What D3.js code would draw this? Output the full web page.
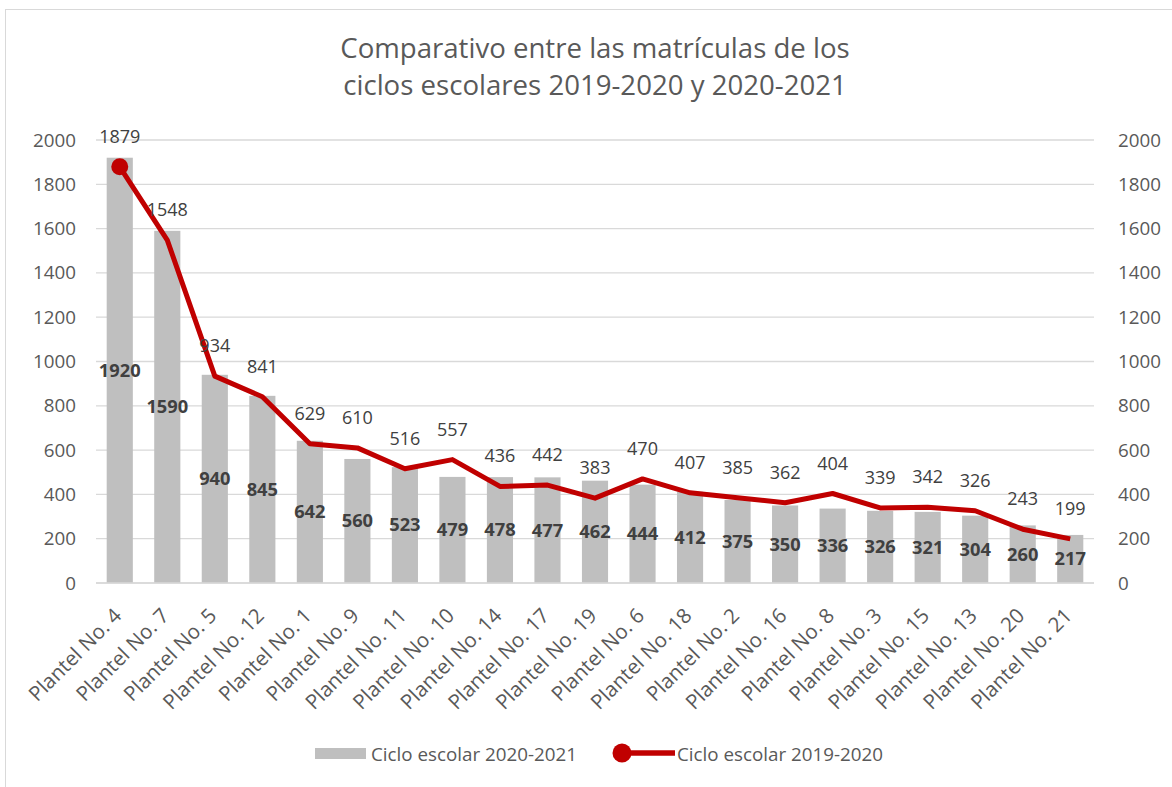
<!DOCTYPE html>
<html>
<head>
<meta charset="utf-8">
<script src="https://cdn.jsdelivr.net/npm/d3@7"></script>
<style>
  body { margin: 0; background: #fff; }
  svg text { font-family: "Open Sans", "Noto Sans", sans-serif; }
</style>
</head>
<body>
<svg id="chart" width="1172" height="787"></svg>
<script>
/* global d3 */

const categories = ["Plantel No. 4", "Plantel No. 7", "Plantel No. 5", "Plantel No. 12", "Plantel No. 1",
  "Plantel No. 9", "Plantel No. 11", "Plantel No. 10", "Plantel No. 14", "Plantel No. 17", "Plantel No. 19",
  "Plantel No. 6", "Plantel No. 18", "Plantel No. 2", "Plantel No. 16", "Plantel No. 8", "Plantel No. 3",
  "Plantel No. 15", "Plantel No. 13", "Plantel No. 20", "Plantel No. 21"];
// Ciclo escolar 2020-2021 (bars)
const ciclo2021 = [1920, 1590, 940, 845, 642, 560, 523, 479, 478, 477, 462, 444, 412, 375, 350, 336, 326, 321, 304, 260, 217];
// Ciclo escolar 2019-2020 (line)
const ciclo2020 = [1879, 1548, 934, 841, 629, 610, 516, 557, 436, 442, 383, 470, 407, 385, 362, 404, 339, 342, 326, 243, 199];
const yTicks = [0, 200, 400, 600, 800, 1000, 1200, 1400, 1600, 1800, 2000];
const titleLines = ["Comparativo entre las matrículas de los", "ciclos escolares 2019-2020 y 2020-2021"];
const legendLabels = ["Ciclo escolar 2020-2021", "Ciclo escolar 2019-2020"];

const barColor = "#bfbfbf", lineColor = "#c00000", textColor = "#595959", labelColor = "#404040";

let svg = d3.select("#chart");

// outer frame of the chart area
svg.append("rect")
  .attr("x", 5.5).attr("y", 9.5)
  .attr("width", 1200).attr("height", 800)
  .attr("fill", "#fff")
  .attr("stroke", "#d9d9d9");

let plot = { left: 96, right: 1094, top: 140, bottom: 583 };

let x = d3.scaleBand()
  .domain(categories)
  .range([plot.left, plot.right])
  .paddingInner(0.45)
  .paddingOuter(0.225);

let y = d3.scaleLinear().domain([0, 2000]).range([plot.bottom, plot.top]);

// title
svg.append("g").selectAll("text")
  .data(titleLines)
  .enter().append("text")
  .attr("x", 595)
  .attr("y", (d, i) => 58 + i * 37)
  .attr("text-anchor", "middle")
  .attr("font-size", 27.6)
  .attr("fill", textColor)
  .text(d => d);

// gridlines
svg.append("g").selectAll("line")
  .data(yTicks)
  .enter().append("line")
  .attr("x1", plot.left).attr("x2", plot.right)
  .attr("y1", d => y(d)).attr("y2", d => y(d))
  .attr("stroke", "#d9d9d9")
  .attr("stroke-width", 1.3);

// left and right axes, ticks only as text
let yLeft = svg.append("g")
  .attr("transform", "translate(" + (plot.left - 16) + ",0)")
  .call(d3.axisLeft(y).tickValues(yTicks).tickFormat(d3.format("d")).tickSize(0).tickPadding(4));
let yRight = svg.append("g")
  .attr("transform", "translate(" + (plot.right + 20) + ",0)")
  .call(d3.axisRight(y).tickValues(yTicks).tickFormat(d3.format("d")).tickSize(0).tickPadding(4));
[yLeft, yRight].forEach(function(g) {
  g.select(".domain").remove();
  g.selectAll("text")
    .attr("font-size", 18.8)
    .attr("fill", textColor)
    .style("font-family", "\"Open Sans\", sans-serif");
});

// bars
svg.append("g").selectAll("rect")
  .data(ciclo2021)
  .enter().append("rect")
  .attr("x", (d, i) => x(categories[i]))
  .attr("y", d => y(d))
  .attr("width", x.bandwidth())
  .attr("height", d => plot.bottom - y(d))
  .attr("fill", barColor);

// baseline
svg.append("line")
  .attr("x1", plot.left).attr("x2", plot.right)
  .attr("y1", plot.bottom).attr("y2", plot.bottom)
  .attr("stroke", "#d9d9d9")
  .attr("stroke-width", 1.3);

// category labels, rotated
let xAxis = svg.append("g")
  .attr("transform", "translate(0," + plot.bottom + ")")
  .call(d3.axisBottom(x).tickSize(0).tickPadding(0));
xAxis.select(".domain").remove();
xAxis.selectAll("text")
  .attr("font-size", 20.5)
  .attr("fill", textColor)
  .style("font-family", "\"Open Sans\", sans-serif")
  .attr("text-anchor", "end")
  .attr("y", 0)
  .attr("dy", null)
  .attr("transform", "translate(3,34) rotate(-45)");

// line series
let cx = i => x(categories[i]) + x.bandwidth() / 2;
let line = d3.line()
  .x((d, i) => cx(i))
  .y(d => y(d));
svg.append("path")
  .datum(ciclo2020)
  .attr("d", line)
  .attr("fill", "none")
  .attr("stroke", lineColor)
  .attr("stroke-width", 5)
  .attr("stroke-linejoin", "round");

// only the first point carries a marker
svg.append("circle")
  .attr("cx", cx(0))
  .attr("cy", y(ciclo2020[0]))
  .attr("r", 8.5)
  .attr("fill", lineColor);

// bar labels (bold, middle of bar)
svg.append("g").selectAll("text")
  .data(ciclo2021)
  .enter().append("text")
  .attr("x", (d, i) => cx(i))
  .attr("y", d => (y(d) + plot.bottom) / 2)
  .attr("dy", "0.35em")
  .attr("text-anchor", "middle")
  .attr("font-size", 18.3)
  .attr("font-weight", "bold")
  .attr("fill", labelColor)
  .text(d => d);

// line labels (above the point)
svg.append("g").selectAll("text")
  .data(ciclo2020)
  .enter().append("text")
  .attr("x", (d, i) => cx(i))
  .attr("y", d => y(d) - 24)
  .attr("text-anchor", "middle")
  .attr("font-size", 18)
  .attr("fill", labelColor)
  .text(d => d);

// legend
let legend = svg.append("g");
legend.append("rect")
  .attr("x", 315).attr("y", 748)
  .attr("width", 51).attr("height", 11)
  .attr("fill", barColor);
legend.append("text")
  .attr("x", 371).attr("y", 754).attr("dy", "0.35em")
  .attr("font-size", 18.8).attr("fill", textColor)
  .text(legendLabels[0]);
legend.append("line")
  .attr("x1", 622).attr("x2", 675)
  .attr("y1", 753).attr("y2", 753)
  .attr("stroke", lineColor).attr("stroke-width", 5.5);
legend.append("circle")
  .attr("cx", 622).attr("cy", 753).attr("r", 9.5)
  .attr("fill", lineColor);
legend.append("text")
  .attr("x", 677).attr("y", 754).attr("dy", "0.35em")
  .attr("font-size", 18.8).attr("fill", textColor)
  .text(legendLabels[1]);
</script>
</body>
</html>
